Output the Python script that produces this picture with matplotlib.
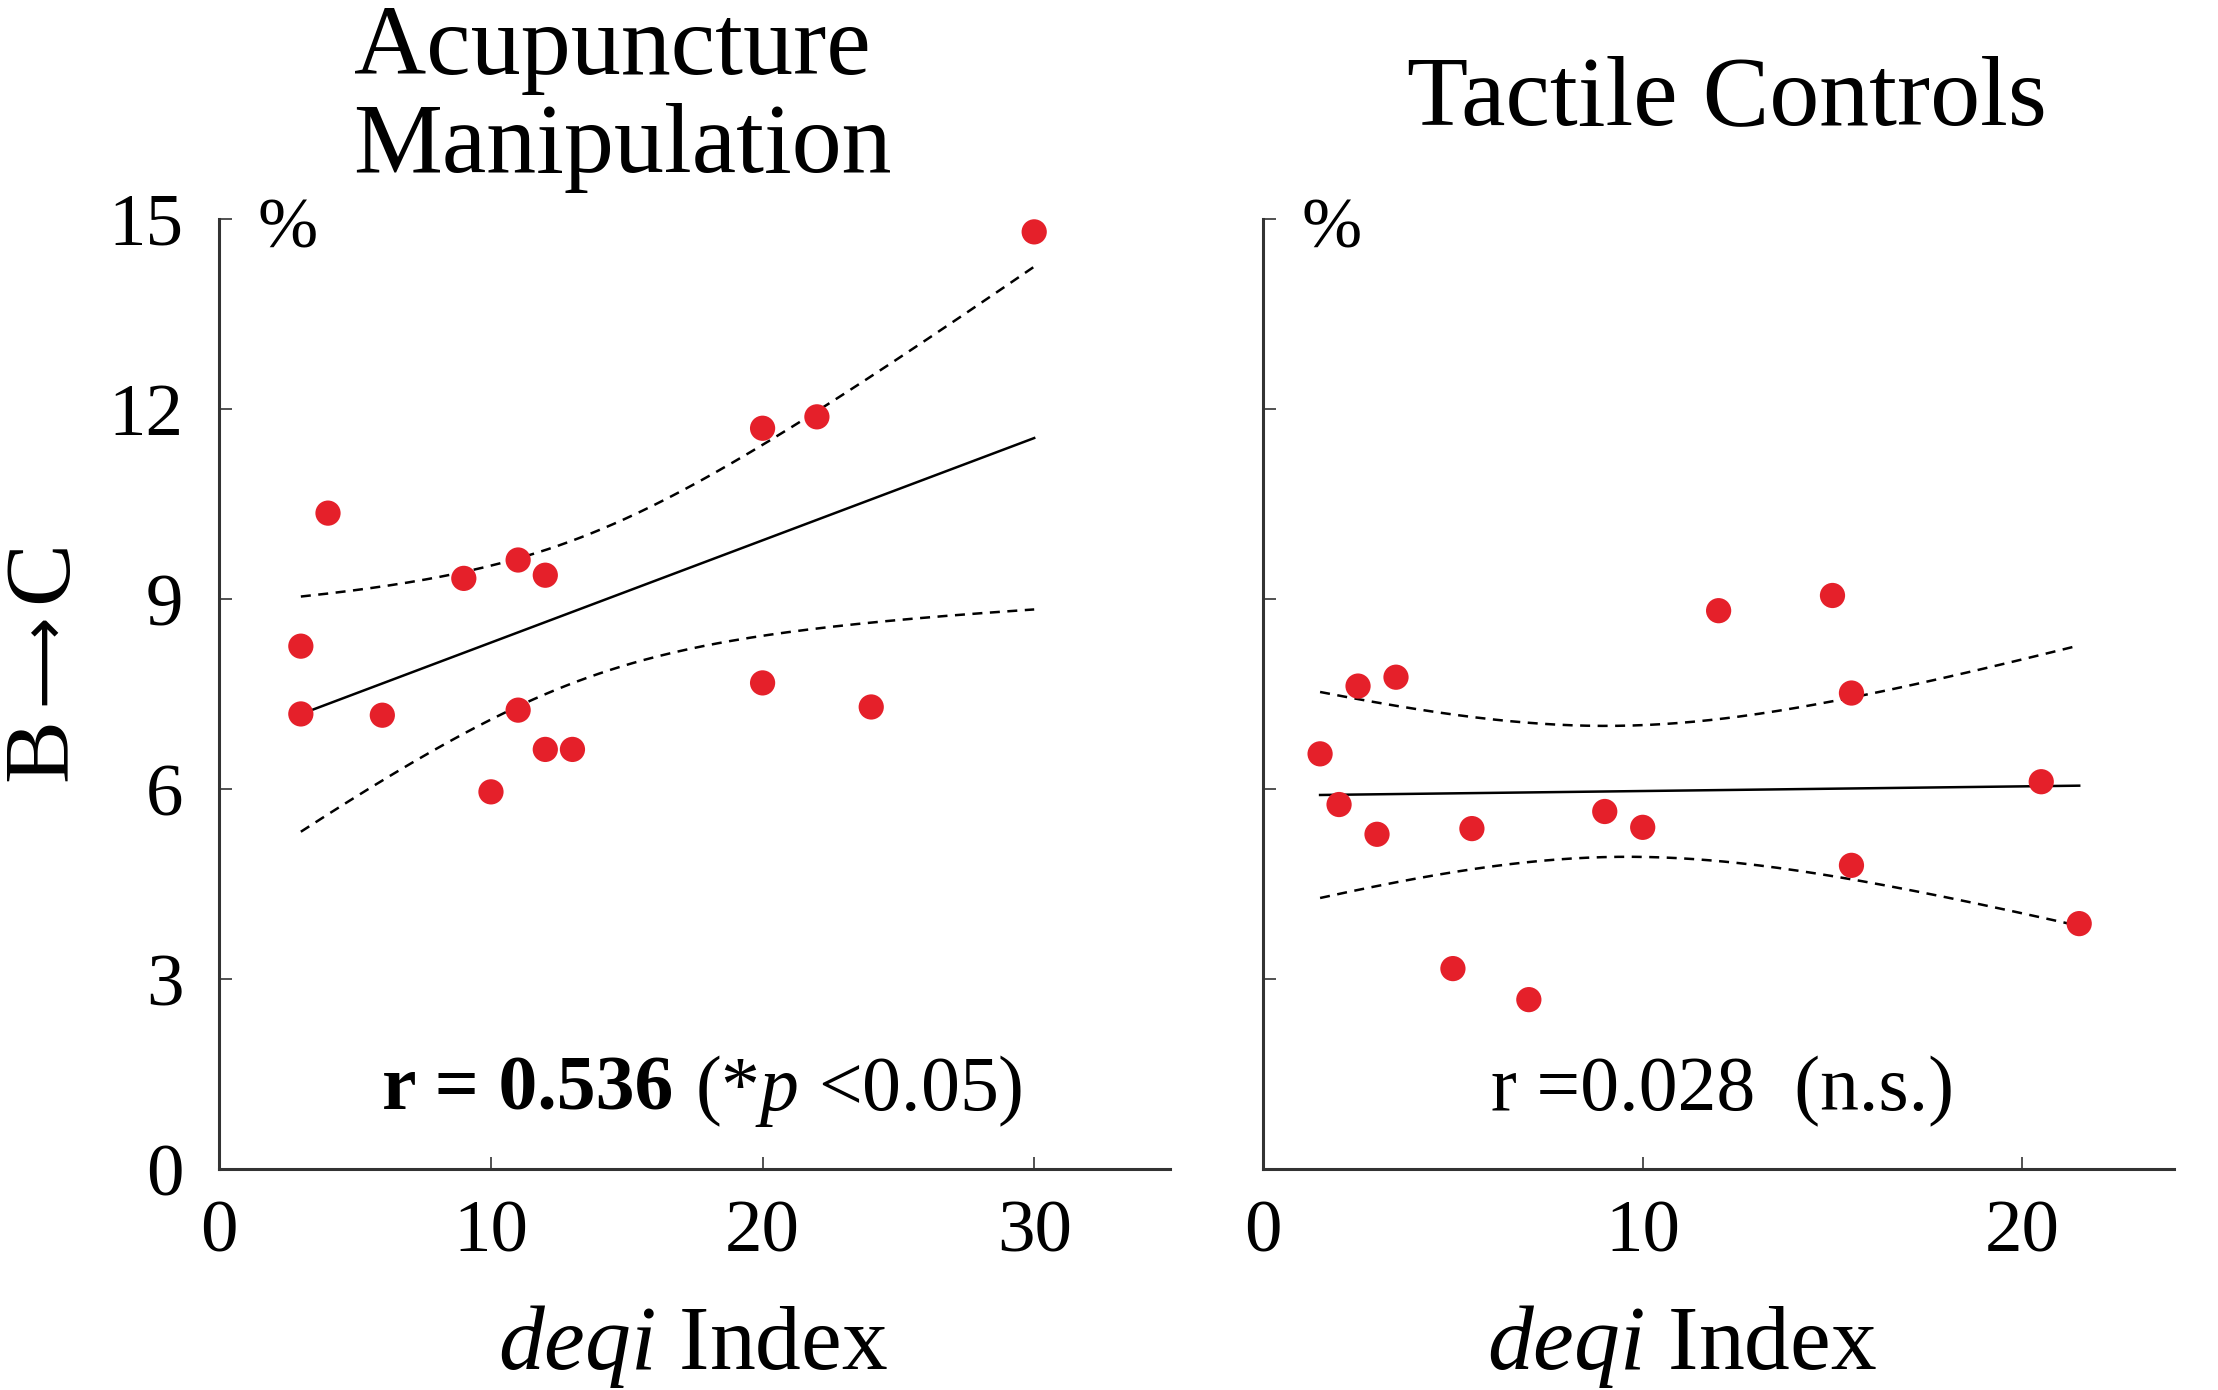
import numpy as np
import matplotlib
matplotlib.use("Agg")
import matplotlib.pyplot as plt

# data
acu_x = [3, 3, 4, 6, 9, 11, 12, 11, 12, 13, 10, 20, 22, 20, 24, 30]
acu_y = [8.26, 7.19, 10.36, 7.17, 9.33, 9.62, 9.38, 7.25, 6.63, 6.63, 5.96,
         11.70, 11.88, 7.68, 7.30, 14.80]
tac_x = [1.5, 2.0, 2.5, 3.0, 3.5, 5.0, 5.5, 7.0, 9.0, 10.0, 12.0, 15.0, 15.5,
         15.5, 20.5, 21.5]
tac_y = [6.56, 5.76, 7.63, 5.29, 7.77, 3.17, 5.38, 2.68, 5.65, 5.40, 8.82,
         9.06, 7.52, 4.80, 6.12, 3.88]

titles = [["Acupuncture", "Manipulation"], ["Tactile Controls"]]
y_ticks = [0, 3, 6, 9, 12, 15]
x_ticks_acu = [0, 10, 20, 30]
x_ticks_tac = [0, 10, 20]
T_CRIT = 2.145  # t(0.975, df=14)

plt.rcParams['font.family'] = ['Liberation Serif', 'DejaVu Serif']
plt.rcParams['mathtext.fontset'] = 'custom'
plt.rcParams['mathtext.rm'] = 'Liberation Serif'
plt.rcParams['mathtext.it'] = 'Liberation Serif:italic'
plt.rcParams['mathtext.bf'] = 'Liberation Serif:bold'

RED = '#e5202a'
SPINE = '#333333'


def fit_with_ci(x, y):
    x = np.asarray(x, float)
    y = np.asarray(y, float)
    n = len(x)
    b, a = np.polyfit(x, y, 1)
    resid = y - (a + b * x)
    s = np.sqrt(np.sum(resid ** 2) / (n - 2))
    sxx = np.sum((x - x.mean()) ** 2)
    xs = np.linspace(x.min(), x.max(), 200)
    yh = a + b * xs
    hw = T_CRIT * s * np.sqrt(1.0 / n + (xs - x.mean()) ** 2 / sxx)
    return xs, yh, yh - hw, yh + hw


def style_axes(ax, xlim, xticks):
    ax.set_xlim(*xlim)
    ax.set_ylim(0, 15)
    ax.set_xticks(xticks)
    ax.set_yticks(y_ticks)
    for side in ['top', 'right']:
        ax.spines[side].set_visible(False)
    for side in ['left', 'bottom']:
        ax.spines[side].set_linewidth(2.2)
        ax.spines[side].set_color(SPINE)
    ax.tick_params(direction='in', length=9, width=1.2, color=SPINE,
                   labelsize=54)
    ax.tick_params(axis='y', pad=26)
    ax.tick_params(axis='x', pad=22)


fig = plt.figure(figsize=(22.18, 13.90), dpi=100)
ax1 = fig.add_axes([0.0989, 0.1587, 0.4286, 0.6836])
ax2 = fig.add_axes([0.5695, 0.1587, 0.4107, 0.6836])

for ax, x, y, xlim, xt in [(ax1, acu_x, acu_y, (0, 35), x_ticks_acu),
                           (ax2, tac_x, tac_y, (0, 24), x_ticks_tac)]:
    style_axes(ax, xlim, xt)
    xs, yh, lo, hi = fit_with_ci(x, y)
    ax.plot(xs, yh, color='black', lw=1.8, zorder=2)
    ax.plot(xs, lo, color='black', lw=1.8, ls=(0, (4, 3)), zorder=2)
    ax.plot(xs, hi, color='black', lw=1.8, ls=(0, (4, 3)), zorder=2)
    ax.scatter(x, y, s=330, color=RED, edgecolors='none', zorder=3)

ax2.set_yticklabels([])

ax1.text(1.4, 15.35, "%", fontsize=52, ha='left', va='top')
ax2.text(1.0, 15.35, "%", fontsize=52, ha='left', va='top')

# correlation notes
ax1.text(6.0, 0.94, "r = 0.536", fontsize=56, fontweight='bold',
         ha='left', va='baseline')
ax1.text(17.5, 0.94, r"(*$\mathit{p}$ <0.05)", fontsize=56,
         ha='left', va='baseline')
ax2.text(12.1, 0.94, "r =0.028  (n.s.)", fontsize=56, ha='center',
         va='baseline')

# titles
fig.text(0.1594, 0.947, titles[0][0], fontsize=72, ha='left', va='baseline')
fig.text(0.1594, 0.876, titles[0][1], fontsize=72, ha='left', va='baseline')
fig.text(0.6345, 0.9105, titles[1][0], fontsize=72, ha='left', va='baseline')

# y label "B→C", long thin arrow taken from DejaVu
fig.text(0.0195, 0.461, "B", fontsize=68, rotation=90,
         ha='center', va='center')
fig.text(0.0200, 0.526, "\u27f6", fontsize=46, rotation=90,
         family='DejaVu Sans', ha='center', va='center')
fig.text(0.0195, 0.589, "C", fontsize=68, rotation=90,
         ha='center', va='center')

# x labels
fig.text(0.3125, 0.0153, r"$\mathit{deqi}$ Index", fontsize=66,
         ha='center', va='baseline')
fig.text(0.7585, 0.0153, r"$\mathit{deqi}$ Index", fontsize=66,
         ha='center', va='baseline')

fig.savefig("out.png", dpi=100)
